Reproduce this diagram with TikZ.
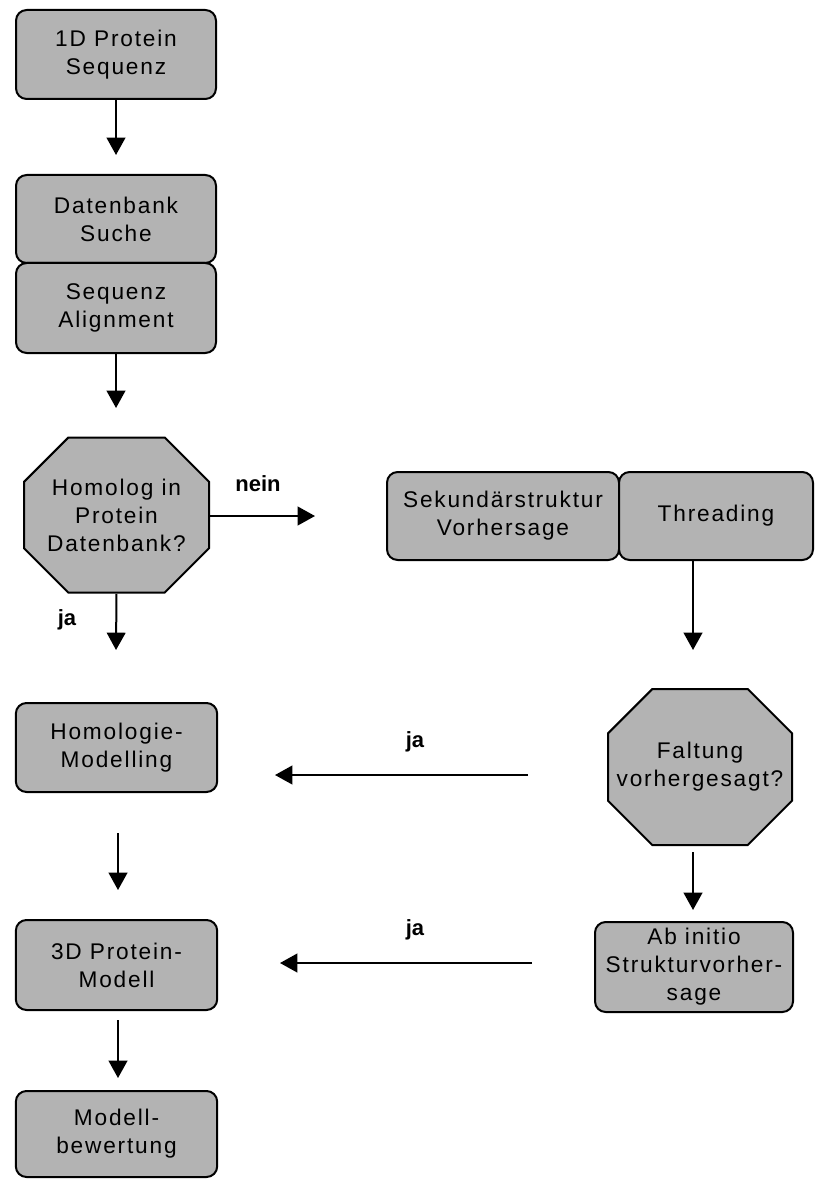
\documentclass[tikz,border=0pt]{standalone}
\usepackage{fontspec}
\setmainfont{Liberation Sans}
\newfontfamily\boxfont[LetterSpace=8]{Liberation Sans}
\usetikzlibrary{arrows.meta}
\definecolor{boxgray}{RGB}{179,179,179}

\begin{document}
\begin{tikzpicture}[x=0.75pt,y=-0.75pt,
  box/.style={draw, line width=1.5pt, fill=boxgray, rounded corners=8pt,
    inner sep=0pt, align=center, font=\boxfont\fontsize{17}{21}\selectfont},
  octa/.style={inner sep=0pt, align=center,
    font=\boxfont\fontsize{17}{21}\selectfont,
    path picture={\draw[line width=1.5pt, fill=boxgray]
      ([shift={(34pt,-0.75pt)}]path picture bounding box.north west)
      -- ([shift={(-34pt,-0.75pt)}]path picture bounding box.north east)
      -- ([shift={(-0.75pt,-34pt)}]path picture bounding box.north east)
      -- ([shift={(-0.75pt,34pt)}]path picture bounding box.south east)
      -- ([shift={(-34pt,0.75pt)}]path picture bounding box.south east)
      -- ([shift={(34pt,0.75pt)}]path picture bounding box.south west)
      -- ([shift={(0.75pt,34pt)}]path picture bounding box.south west)
      -- ([shift={(0.75pt,-34pt)}]path picture bounding box.north west)
      -- cycle;}},
  flow/.style={line width=1.5pt, -{Triangle[width=14pt,length=13pt]}},
  lab/.style={font=\fontsize{16.5}{19}\selectfont\bfseries}]
\useasboundingbox (0,0) rectangle (815,1180);

% left column
\node[box, minimum width=150pt, minimum height=66.75pt] (seq) at (116,54.5) {1D Protein\\Sequenz};
\node[box, minimum width=150pt, minimum height=66pt] (db) at (116,219) {Datenbank\\Suche};
\node[box, minimum width=150pt, minimum height=67.5pt] (ali) at (116,308) {Sequenz\\Alignment};
\node[octa, minimum width=140.25pt, minimum height=117.75pt] (hom) at (116.5,515) {Homolog in\\Protein\\Datenbank?};
\node[box, minimum width=151pt, minimum height=66.75pt] (hmod) at (116.5,747.5) {Homologie-\\Modelling};
\node[box, minimum width=151pt, minimum height=67.5pt] (model) at (116.5,965) {3D Protein-\\Modell};
\node[box, minimum width=151pt, minimum height=64.5pt] (eval) at (116.5,1134) {Modell-\\bewertung};

% right column
\node[box, minimum width=174pt, minimum height=66pt] (sek) at (503,516) {Sekund\"arstruktur\\Vorhersage};
\node[box, minimum width=145.5pt, minimum height=66pt] (thread) at (716,516) {Threading};
\node[octa, minimum width=139.5pt, minimum height=118.5pt] (fold) at (700,767) {Faltung\\vorhergesagt?};
\node[box, minimum width=148.5pt, minimum height=67.5pt] (abin) at (694,967) {Ab initio\\Strukturvorher-\\sage};

% free arrow ends
\coordinate (s1) at (116,155);
\coordinate (a1) at (116,408);
\coordinate (n1) at (315,516);
\coordinate (y1) at (116,650);
\coordinate (t1) at (693,650);
\coordinate (f0) at (693,852);
\coordinate (f1) at (693,910);
\coordinate (h0) at (118,833);
\coordinate (h1) at (118,890);
\coordinate (m0) at (118,1020);
\coordinate (m1) at (118,1078);
\coordinate (j0) at (528,775);
\coordinate (j1) at (275,775);
\coordinate (k0) at (532,963);
\coordinate (k1) at (280,963);

\draw[flow] (seq.south) -- (s1);
\draw[flow] (ali.south) -- (a1);
\draw[flow] (hom.east |- n1) -- (n1);
\draw[flow] (hom.south) -- (y1);
\draw[flow] (thread.south -| t1) -- (t1);
\draw[flow] (f0) -- (f1);
\draw[flow] (h0) -- (h1);
\draw[flow] (m0) -- (m1);
\draw[flow] (j0) -- (j1);
\draw[flow] (k0) -- (k1);

% labels
\node[lab] (lnein) at (258,484) {nein};
\node[lab] (lja) at (67,620) {ja};
\node[lab] (lja1) at (415,742) {ja};
\node[lab] (lja2) at (415,930) {ja};
\end{tikzpicture}
\end{document}
